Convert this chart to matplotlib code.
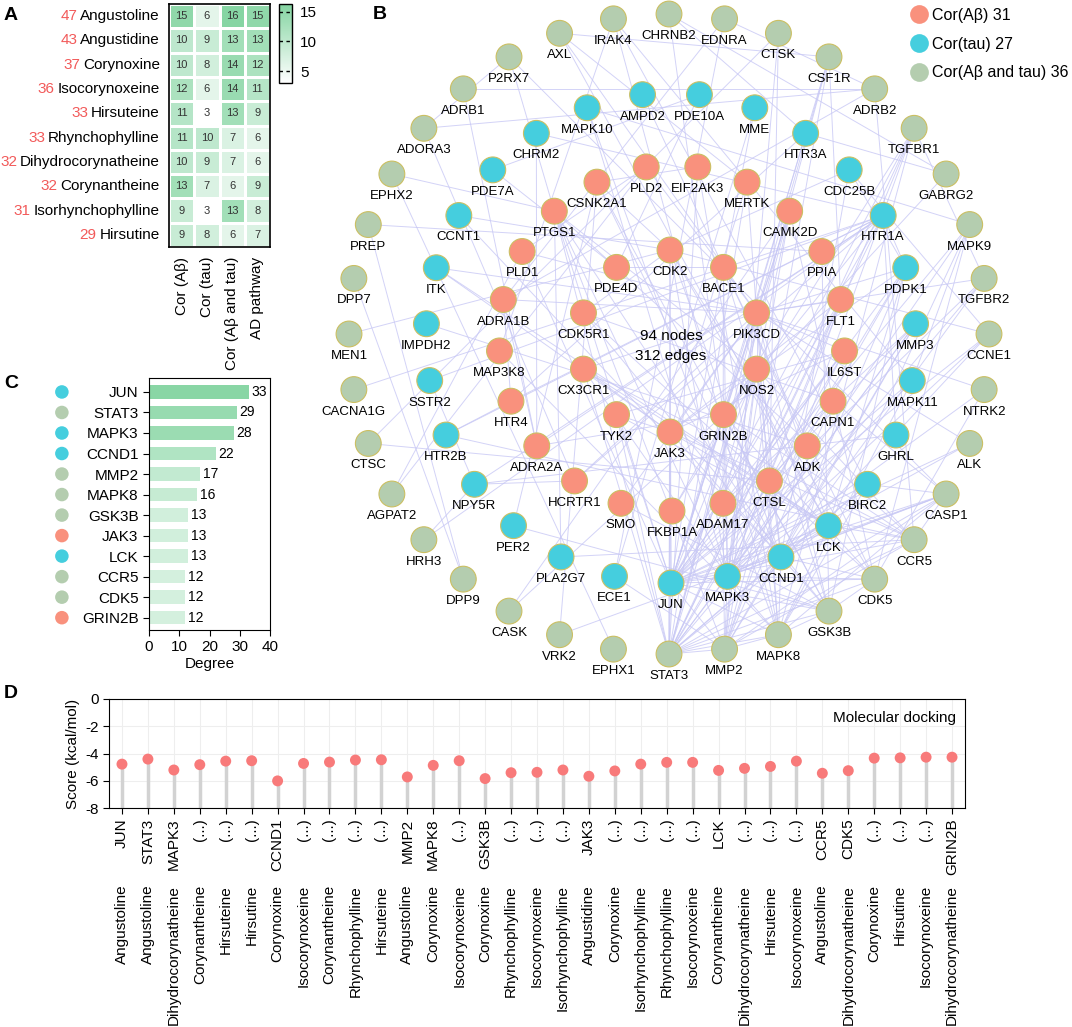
import matplotlib
matplotlib.use('Agg')
import matplotlib.pyplot as plt
import numpy as np
from matplotlib import transforms
from matplotlib.colors import LinearSegmentedColormap, Normalize
from matplotlib.cm import ScalarMappable
from matplotlib.lines import Line2D

plt.rcParams['font.family'] = ['Liberation Sans', 'DejaVu Sans']
plt.rcParams['axes.unicode_minus'] = False

# ---------------- data ----------------
# A: compound-target counts
compounds = ['Angustoline', 'Angustidine', 'Corynoxine', 'Isocorynoxeine', 'Hirsuteine',
             'Rhynchophylline', 'Dihydrocorynatheine', 'Corynantheine', 'Isorhynchophylline', 'Hirsutine']
compound_totals = [47, 43, 37, 36, 33, 33, 32, 32, 31, 29]
heat_cols = ['Cor (Aβ)', 'Cor (tau)', 'Cor (Aβ and tau)', 'AD pathway']
heat_vals = [[15, 6, 16, 15],
             [10, 9, 13, 13],
             [10, 8, 14, 12],
             [12, 6, 14, 11],
             [11, 3, 13, 9],
             [11, 10, 7, 6],
             [10, 9, 7, 6],
             [13, 7, 6, 9],
             [9, 3, 13, 8],
             [9, 8, 6, 7]]

# B: network rings (listed around each ring, starting at the bottom)
ring_ab_tau = ['STAT3', 'MMP2', 'MAPK8', 'GSK3B', 'CDK5', 'CCR5', 'CASP1', 'ALK', 'NTRK2', 'CCNE1',
               'TGFBR2', 'MAPK9', 'GABRG2', 'TGFBR1', 'ADRB2', 'CSF1R', 'CTSK', 'EDNRA', 'CHRNB2',
               'IRAK4', 'AXL', 'P2RX7', 'ADRB1', 'ADORA3', 'EPHX2', 'PREP', 'DPP7', 'MEN1', 'CACNA1G',
               'CTSC', 'AGPAT2', 'HRH3', 'DPP9', 'CASK', 'VRK2', 'EPHX1']
ring_tau = ['JUN', 'MAPK3', 'CCND1', 'LCK', 'BIRC2', 'GHRL', 'MAPK11', 'MMP3', 'PDPK1', 'HTR1A',
            'CDC25B', 'HTR3A', 'MME', 'PDE10A', 'AMPD2', 'MAPK10', 'CHRM2', 'PDE7A', 'CCNT1', 'ITK',
            'IMPDH2', 'SSTR2', 'HTR2B', 'NPY5R', 'PER2', 'PLA2G7', 'ECE1']
ring_ab_outer = ['FKBP1A', 'ADAM17', 'CTSL', 'ADK', 'CAPN1', 'IL6ST', 'FLT1', 'PPIA', 'CAMK2D',
                 'MERTK', 'EIF2AK3', 'PLD2', 'CSNK2A1', 'PTGS1', 'PLD1', 'ADRA1B', 'MAP3K8', 'HTR4',
                 'ADRA2A', 'HCRTR1', 'SMO']
ring_ab_inner = ['JAK3', 'GRIN2B', 'NOS2', 'PIK3CD', 'BACE1', 'CDK2', 'PDE4D', 'CDK5R1', 'CX3CR1', 'TYK2']

hub_links = {
    'JUN': ['STAT3', 'MAPK3', 'CCND1', 'MMP2', 'MAPK8', 'GSK3B', 'JAK3', 'LCK', 'CCR5', 'CDK5', 'GRIN2B',
            'CDK2', 'BACE1', 'PIK3CD', 'NOS2', 'TYK2', 'PTGS1', 'IL6ST', 'FLT1', 'CAMK2D', 'MMP3',
            'MAPK11', 'HTR1A', 'PDPK1', 'BIRC2', 'CASP1', 'TGFBR1', 'TGFBR2', 'CCNE1', 'ALK', 'CSF1R',
            'MAPK9', 'PLD1'],
    'STAT3': ['MAPK3', 'CCND1', 'MMP2', 'MAPK8', 'GSK3B', 'JAK3', 'LCK', 'CCR5', 'CDK5', 'TYK2', 'PIK3CD',
              'IL6ST', 'NOS2', 'CDK2', 'PTGS1', 'FLT1', 'CSF1R', 'TGFBR1', 'TGFBR2', 'MMP3', 'BIRC2',
              'CASP1', 'EIF2AK3', 'CX3CR1', 'PDPK1', 'HTR1A', 'CAMK2D', 'MERTK'],
    'MAPK3': ['CCND1', 'MMP2', 'MAPK8', 'GSK3B', 'LCK', 'CDK5', 'MAPK11', 'MAPK9', 'MAPK10', 'PDPK1', 'CDK2',
              'PIK3CD', 'NOS2', 'PTGS1', 'BACE1', 'GRIN2B', 'IL6ST', 'FLT1', 'CAMK2D', 'MMP3', 'TGFBR1',
              'CCNE1', 'NTRK2', 'ALK', 'CASP1', 'CX3CR1'],
    'CCND1': ['CDK2', 'CCNE1', 'GSK3B', 'CDK5', 'MMP2', 'LCK', 'PIK3CD', 'JAK3', 'BIRC2', 'PDPK1', 'TGFBR2',
              'MAPK8', 'CDC25B', 'CCNT1', 'MMP3', 'NOS2', 'PTGS1', 'CSNK2A1', 'CASP1'],
    'MMP2': ['MMP3', 'MAPK8', 'CASP1', 'CCR5', 'CTSK', 'CTSL', 'ADAM17', 'TGFBR1', 'NOS2', 'PTGS1', 'CSF1R',
             'CAPN1', 'FLT1'],
    'MAPK8': ['GSK3B', 'MAPK9', 'MAPK10', 'MAPK11', 'IRAK4', 'TGFBR1', 'CASP1', 'BIRC2', 'PIK3CD', 'NOS2',
              'EIF2AK3', 'MAP3K8'],
    'GSK3B': ['CDK5', 'CDK5R1', 'GRIN2B', 'PIK3CD', 'BACE1', 'PDPK1', 'CSNK2A1', 'PPIA', 'SMO'],
    'JAK3': ['TYK2', 'IL6ST', 'LCK', 'ITK', 'PIK3CD', 'CX3CR1', 'CCR5', 'PDPK1', 'FLT1', 'MERTK'],
    'LCK': ['ITK', 'PIK3CD', 'PDPK1', 'CCR5', 'CX3CR1', 'TYK2', 'AXL', 'CDK2'],
    'CCR5': ['CX3CR1', 'CASP1', 'PTGS1', 'NOS2', 'HTR2B', 'ADRB2', 'GRIN2B'],
    'CDK5': ['CDK5R1', 'GRIN2B', 'BACE1', 'CDK2', 'CAMK2D', 'NTRK2', 'MAPK9'],
    'GRIN2B': ['CAMK2D', 'NOS2', 'HTR1A', 'ADRA2A', 'GABRG2', 'HTR3A', 'CHRNB2', 'CASK'],
}
other_links = [
    ('ADRB1', 'ADRB2'), ('ADRB1', 'ADRA2A'), ('ADRB2', 'ADRA1B'), ('ADRA2A', 'ADRA1B'), ('ADRA2A', 'HTR1A'),
    ('HTR1A', 'HTR2B'), ('HTR2B', 'HTR4'), ('HTR4', 'HTR1A'), ('HTR3A', 'HTR4'), ('HTR3A', 'CHRNB2'),
    ('CHRM2', 'ADRA2A'), ('CHRM2', 'HTR1A'), ('ADORA3', 'ADRB2'), ('ADORA3', 'HCRTR1'), ('NPY5R', 'HCRTR1'),
    ('NPY5R', 'HTR1A'), ('SSTR2', 'HTR1A'), ('SSTR2', 'NPY5R'), ('HRH3', 'HTR1A'), ('HRH3', 'NPY5R'),
    ('EDNRA', 'ADRB2'), ('EDNRA', 'ADRA1B'), ('P2RX7', 'CASP1'), ('P2RX7', 'PTGS1'), ('P2RX7', 'ADORA3'),
    ('AXL', 'MERTK'), ('AXL', 'PIK3CD'), ('IRAK4', 'BIRC2'), ('CHRNB2', 'GABRG2'), ('CTSK', 'CTSL'),
    ('CTSK', 'CTSC'), ('CTSC', 'CTSL'), ('CSF1R', 'FLT1'), ('CSF1R', 'PIK3CD'), ('CSF1R', 'AXL'),
    ('TGFBR1', 'TGFBR2'), ('TGFBR2', 'PIK3CD'), ('GABRG2', 'HTR3A'), ('MAPK9', 'MAPK10'),
    ('MAPK11', 'MAPK9'), ('CCNE1', 'CDK2'), ('CCNE1', 'CDC25B'), ('NTRK2', 'PIK3CD'), ('ALK', 'PIK3CD'),
    ('CASP1', 'BIRC2'), ('CASP1', 'CAPN1'), ('PDE10A', 'PDE4D'), ('PDE7A', 'PDE4D'), ('PDE10A', 'PDE7A'),
    ('MME', 'ECE1'), ('MME', 'BACE1'), ('AMPD2', 'ADK'), ('IMPDH2', 'ADK'), ('PREP', 'PPIA'),
    ('DPP7', 'DPP9'), ('DPP9', 'PREP'), ('MEN1', 'CDK2'), ('CACNA1G', 'HTR1A'), ('AGPAT2', 'PLD1'),
    ('AGPAT2', 'PLD2'), ('PLD1', 'PLD2'), ('EPHX2', 'EPHX1'), ('EPHX2', 'PTGS1'), ('VRK2', 'CSNK2A1'),
    ('PER2', 'CSNK2A1'), ('PLA2G7', 'PTGS1'), ('ECE1', 'EDNRA'), ('HCRTR1', 'HTR1A'), ('FKBP1A', 'TGFBR1'),
    ('ADAM17', 'IL6ST'), ('ADAM17', 'NOS2'), ('CTSL', 'CAPN1'), ('CAPN1', 'CDK5R1'), ('IL6ST', 'PIK3CD'),
    ('FLT1', 'PIK3CD'), ('PPIA', 'FKBP1A'), ('CAMK2D', 'NOS2'), ('MERTK', 'PIK3CD'), ('EIF2AK3', 'CSNK2A1'),
    ('PLD2', 'PIK3CD'), ('CSNK2A1', 'CDK2'), ('PTGS1', 'NOS2'), ('PLD1', 'PIK3CD'), ('ADRA1B', 'PIK3CD'),
    ('MAP3K8', 'IRAK4'), ('CX3CR1', 'PIK3CD'), ('CDK5R1', 'CDK2'), ('PDE4D', 'BACE1'), ('TYK2', 'IL6ST'),
    ('BACE1', 'ADAM17'), ('NOS2', 'PIK3CD'), ('CDK2', 'CDC25B'), ('CDC25B', 'PDPK1'), ('HTR1A', 'PDPK1'),
    ('PDPK1', 'PIK3CD'), ('MMP3', 'ADAM17'), ('MAPK11', 'IRAK4'), ('GHRL', 'HTR1A'), ('GHRL', 'NPY5R'),
    ('ITK', 'PIK3CD'), ('CCNT1', 'CDK2'), ('HTR4', 'ADRA1B'), ('SMO', 'PIK3CD'), ('HCRTR1', 'PIK3CD'),
    ('CASK', 'CAMK2D'), ('ECE1', 'MMP2'), ('PER2', 'GSK3B'), ('PLA2G7', 'CCR5'), ('VRK2', 'CASP1'),
]
legend_labels = ['Cor(Aβ) 31', 'Cor(tau) 27', 'Cor(Aβ and tau) 36']

# C: hub degree
hub_names = ['JUN', 'STAT3', 'MAPK3', 'CCND1', 'MMP2', 'MAPK8', 'GSK3B', 'JAK3', 'LCK', 'CCR5', 'CDK5', 'GRIN2B']
hub_degree = [33, 29, 28, 22, 17, 16, 13, 13, 13, 12, 12, 12]
hub_group = ['tau', 'both', 'tau', 'tau', 'both', 'both', 'both', 'ab', 'tau', 'both', 'both', 'ab']

# D: docking scores
dock_targets = ['JUN', 'STAT3', 'MAPK3', '(...)', '(...)', '(...)', 'CCND1', '(...)', '(...)', '(...)', '(...)',
                'MMP2', 'MAPK8', '(...)', 'GSK3B', '(...)', '(...)', '(...)', 'JAK3', '(...)', '(...)', '(...)',
                '(...)', 'LCK', '(...)', '(...)', '(...)', 'CCR5', 'CDK5', '(...)', '(...)', '(...)', 'GRIN2B']
dock_compounds = ['Angustoline', 'Angustoline', 'Dihydrocorynatheine', 'Corynantheine', 'Hirsuteine', 'Hirsutine',
                  'Corynoxine', 'Isocorynoxeine', 'Corynantheine', 'Rhynchophylline', 'Hirsuteine', 'Angustoline',
                  'Corynoxine', 'Isocorynoxeine', 'Corynoxine', 'Rhynchophylline', 'Isocorynoxeine',
                  'Isorhynchophylline', 'Angustidine', 'Corynoxine', 'Isorhynchophylline', 'Rhynchophylline',
                  'Isocorynoxeine', 'Corynantheine', 'Dihydrocorynatheine', 'Hirsuteine', 'Isocorynoxeine',
                  'Angustoline', 'Dihydrocorynatheine', 'Corynoxine', 'Hirsutine', 'Isocorynoxeine',
                  'Dihydrocorynatheine']
dock_scores = [-4.78, -4.41, -5.21, -4.82, -4.56, -4.53, -6.01, -4.73, -4.63, -4.48, -4.46, -5.72,
               -4.87, -4.53, -5.84, -5.41, -5.38, -5.21, -5.67, -5.28, -4.78, -4.65, -4.65, -5.24,
               -5.09, -4.95, -4.56, -5.45, -5.26, -4.34, -4.32, -4.27, -4.27]

# ---------------- style ----------------
col_ab = '#F9917D'
col_tau = '#45CEDE'
col_both = '#B4CDAF'
group_col = {'ab': col_ab, 'tau': col_tau, 'both': col_both}
greens = LinearSegmentedColormap.from_list('gr', ['#FFFFFF', '#84D4A1'])

W, H = 1072, 1027
fig = plt.figure(figsize=(W / 100, H / 100), dpi=100)

# ---------------- B: network (pixel space overlay) ----------------
axb = fig.add_axes([0, 0, 1, 1])
axb.set_xlim(0, W)
axb.set_ylim(H, 0)
axb.axis('off')

rings = [(ring_ab_tau, 669, 334, 320, col_both),
         (ring_tau, 671, 338, 245, col_tau),
         (ring_ab_outer, 672, 338, 173, col_ab),
         (ring_ab_inner, 670, 341, 91, col_ab)]
pos, node_col = {}, {}
for names, cx, cy, r, c in rings:
    for k, n in enumerate(names):
        th = np.deg2rad(270 + k * 360.0 / len(names))
        pos[n] = (cx + r * np.cos(th), cy - r * np.sin(th))
        node_col[n] = c

edges = set()
for hub, nbrs in hub_links.items():
    for n in nbrs:
        edges.add(tuple(sorted((hub, n))))
for a, b in other_links:
    edges.add(tuple(sorted((a, b))))
for a, b in edges:
    axb.plot([pos[a][0], pos[b][0]], [pos[a][1], pos[b][1]], color='#C8C8F5', lw=0.7, alpha=0.8, zorder=1)

names_all = list(pos.keys())
axb.scatter([pos[n][0] for n in names_all], [pos[n][1] for n in names_all], s=345,
            c=[node_col[n] for n in names_all], edgecolors='#CBBF62', linewidths=0.8, zorder=3)
for n in names_all:
    axb.text(pos[n][0], pos[n][1] + 22, n, ha='center', va='center', fontsize=9.5, zorder=4)
axb.text(671, 346, '94 nodes\n312 edges', ha='center', va='center', fontsize=11, linespacing=1.6, zorder=4)

handles = [Line2D([], [], marker='o', ls='', ms=13.5, mfc=c, mec='none') for c in (col_ab, col_tau, col_both)]
fig.legend(handles, legend_labels, loc='upper left', bbox_to_anchor=(909 / W, 1 - 8 / H), frameon=False,
           fontsize=11.5, handlelength=1.2, handletextpad=0.25, labelspacing=0.85, borderpad=0,
           borderaxespad=0)

# ---------------- A: heatmap ----------------
vals = np.array(heat_vals)
norm_a = Normalize(3, 16.3)
axa = fig.add_axes([169 / W, 1 - 247 / H, 101 / W, 243 / H])
axa.pcolormesh(vals, cmap=greens, norm=norm_a, edgecolors='white', linewidth=1)
axa.set_xlim(0, 4)
axa.set_ylim(10, 0)
for i in range(vals.shape[0]):
    for j in range(vals.shape[1]):
        axa.text(j + 0.5, i + 0.5, str(vals[i, j]), ha='center', va='center', fontsize=8, color='#333333')
axa.set_xticks(np.arange(4) + 0.5)
axa.set_xticklabels(heat_cols, rotation=90, fontsize=11)
axa.tick_params(axis='x', length=0, pad=7)
axa.set_yticks([])
for s in axa.spines.values():
    s.set_linewidth(1.2)

tr = transforms.blended_transform_factory(axa.transAxes, axa.transData)
name_txt = []
for i, name in enumerate(compounds):
    name_txt.append(axa.text(-0.09, i + 0.5, name, transform=tr, ha='right', va='center', fontsize=11))

cax = fig.add_axes([279 / W, 1 - 83 / H, 13 / W, 79 / H])
cb = fig.colorbar(ScalarMappable(norm=norm_a, cmap=greens), cax=cax)
cb.set_ticks([5, 10, 15])
cax.tick_params(length=0, labelsize=11, pad=6)
cb.outline.set_linewidth(1)
for v in (5, 10, 15):
    cax.axhline(v, color='black', lw=1, ls=(0, (2.5, 2.5)))

# ---------------- C: degree bars ----------------
axc = fig.add_axes([149 / W, 1 - 630 / H, 121 / W, 252 / H])
ypos = np.arange(len(hub_names))
norm_c = Normalize(0, 34.4)
axc.barh(ypos, hub_degree, height=0.65, color=[greens(norm_c(v)) for v in hub_degree])
for y, v in zip(ypos, hub_degree):
    axc.text(v + 0.9, y, str(v), va='center', ha='left', fontsize=10)
axc.set_xlim(0, 40)
axc.set_ylim(11.6, -0.68)
axc.set_yticks(ypos)
axc.set_yticklabels(hub_names, fontsize=11)
axc.set_xticks([0, 10, 20, 30, 40])
axc.tick_params(labelsize=11, length=4)
axc.set_xlabel('Degree', fontsize=11, labelpad=2)
trc = transforms.blended_transform_factory(axc.transAxes, axc.transData)
axc.scatter(np.full(len(ypos), -0.72), ypos, transform=trc, clip_on=False, s=95,
            c=[group_col[g] for g in hub_group], edgecolors='none')

# ---------------- D: docking ----------------
axd = fig.add_axes([109 / W, 1 - 808 / H, 856 / W, 109 / H])
xd = np.arange(len(dock_scores))
axd.set_axisbelow(True)
axd.grid(True, color='#EEEEEE', lw=0.8)
axd.vlines(xd, -8, dock_scores, color='#D2D2D2', lw=2.5, zorder=2)
axd.scatter(xd, dock_scores, s=62, color='#F87A7A', zorder=3, edgecolors='none')
axd.set_xlim(-0.5, len(dock_scores) - 0.5)
axd.set_ylim(-8, 0)
axd.set_yticks([0, -2, -4, -6, -8])
axd.set_xticks(xd)
axd.set_xticklabels(dock_targets, rotation=90, fontsize=11)
axd.tick_params(labelsize=11, length=4)
axd.set_ylabel('Score (kcal/mol)', fontsize=11)
axd.text(0.99, 0.83, 'Molecular docking', transform=axd.transAxes, ha='right', va='center', fontsize=11)
trd = transforms.blended_transform_factory(axd.transData, axd.transAxes)
for x, c in zip(xd, dock_compounds):
    axd.text(x, -0.705, c, transform=trd, rotation=90, ha='center', va='top', fontsize=11)

# ---------------- panel letters ----------------
for lab, (px, py) in {'A': (4, 16), 'B': (373, 14), 'C': (4, 384), 'D': (4, 694)}.items():
    fig.text(px / W, 1 - py / H, lab, fontsize=14, fontweight='bold', va='center', ha='left')

# red totals before compound names (needs text extents)
renderer = fig.canvas.get_renderer()
for t, tot in zip(name_txt, compound_totals):
    bb = t.get_window_extent(renderer)
    fig.text((bb.x0 - 3) / W, (bb.y0 + bb.y1) / 2 / H, str(tot), ha='right', va='center',
             fontsize=11, color='#F25A5A')

fig.savefig('out.png', dpi=100)
